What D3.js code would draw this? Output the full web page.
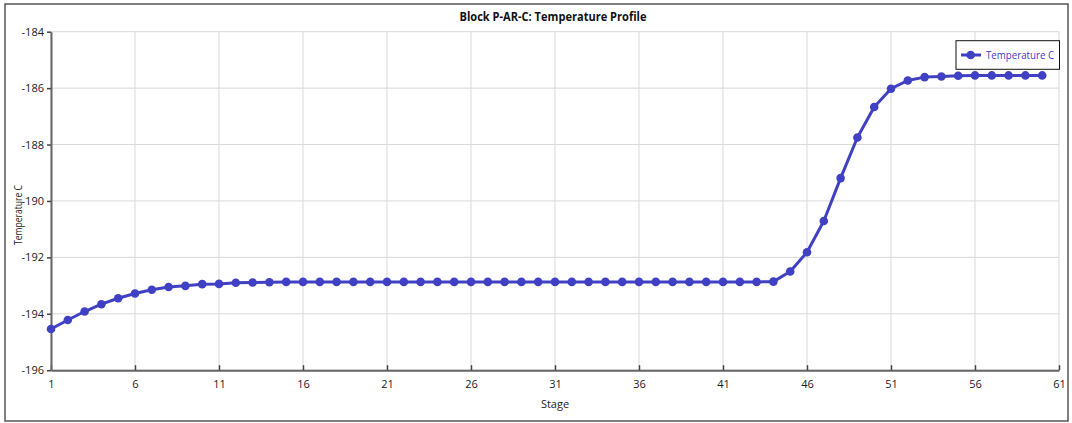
<!DOCTYPE html>
<html>
<head>
<meta charset="utf-8">
<script src="https://cdn.jsdelivr.net/npm/d3@7"></script>
<style>
  html, body { margin: 0; padding: 0; background: #fff; }
  svg { display: block; font-family: "Open Sans", "Noto Sans", sans-serif; }
</style>
</head>
<body>
<svg id="chart" width="1072" height="423"></svg>
<script>
// Column profile: temperature per stage
const stages = d3.range(1, 61);
const temperatureC = [
  -194.54, -194.22, -193.92, -193.66, -193.45, -193.28, -193.15, -193.05, -193.01, -192.95,
  -192.94, -192.90, -192.89, -192.88, -192.87, -192.87, -192.87, -192.87, -192.87, -192.87,
  -192.87, -192.87, -192.87, -192.87, -192.87, -192.87, -192.87, -192.87, -192.87, -192.87,
  -192.87, -192.87, -192.87, -192.87, -192.87, -192.87, -192.87, -192.87, -192.87, -192.87,
  -192.87, -192.87, -192.87, -192.86, -192.50, -191.82, -190.71, -189.19, -187.75, -186.67,
  -186.02, -185.73, -185.61, -185.59, -185.56, -185.55, -185.55, -185.55, -185.55, -185.55
];
const xTicks = [1, 6, 11, 16, 21, 26, 31, 36, 41, 46, 51, 56, 61];
const yTicks = [-196, -194, -192, -190, -188, -186, -184];

const titleText = "Block P-AR-C: Temperature Profile";
const xTitle = "Stage";
const yTitle = "Temperature C";
const seriesName = "Temperature C";

const color = "#4040c4";
const svg = d3.select("#chart");

const plot = { left: 51, right: 1059, top: 31.7, bottom: 370.2 };

const x = d3.scaleLinear().domain([1, 61]).range([plot.left, plot.right]);
const y = d3.scaleLinear().domain([-196, -184]).range([plot.bottom, plot.top]);

// outer frame
svg.append("rect")
  .attr("x", 5).attr("y", 4).attr("width", 1063).attr("height", 417)
  .attr("fill", "#fff").attr("stroke", "#555").attr("stroke-width", 1.5);

// grid
const grid = svg.append("g").attr("stroke", "#d8d8d8").attr("stroke-width", 1);
grid.selectAll("line.v").data(xTicks).join("line")
  .attr("x1", d => x(d)).attr("x2", d => x(d))
  .attr("y1", plot.top).attr("y2", plot.bottom);
grid.selectAll("line.h").data(yTicks).join("line")
  .attr("x1", plot.left).attr("x2", plot.right)
  .attr("y1", d => y(d)).attr("y2", d => y(d));

// axes
const xAxis = d3.axisBottom(x).tickValues(xTicks).tickFormat(d3.format("d"))
  .tickSizeInner(-5).tickSizeOuter(0).tickPadding(10);
const gx = svg.append("g").attr("transform", `translate(0,${plot.bottom})`).call(xAxis);
gx.select(".domain").attr("stroke", "#666").attr("stroke-width", 2);
gx.selectAll(".tick line").attr("stroke", "#444").attr("stroke-width", 1.5);
gx.selectAll(".tick text").attr("fill", "#222").attr("font-size", 11)
  .attr("font-family", "'Open Sans', sans-serif");

const yAxis = d3.axisLeft(y).tickValues(yTicks).tickFormat(d => "-" + Math.abs(d))
  .tickSizeInner(4).tickSizeOuter(0).tickPadding(3);
const gy = svg.append("g").attr("transform", `translate(${plot.left},0)`).call(yAxis);
gy.select(".domain").attr("stroke", "#666").attr("stroke-width", 2);
gy.selectAll(".tick line").attr("stroke", "#444").attr("stroke-width", 1.5);
gy.selectAll(".tick text").attr("fill", "#222").attr("font-size", 11)
  .attr("font-family", "'Open Sans', sans-serif");

// series
const line = d3.line().x((d, i) => x(stages[i])).y(d => y(d));
svg.append("path").datum(temperatureC)
  .attr("d", line).attr("fill", "none")
  .attr("stroke", color).attr("stroke-width", 3).attr("stroke-linejoin", "round");
svg.append("g").selectAll("circle").data(temperatureC).join("circle")
  .attr("cx", (d, i) => x(stages[i])).attr("cy", d => y(d))
  .attr("r", 4.3).attr("fill", color);

// title and axis titles
svg.append("text").attr("x", 553).attr("y", 21).attr("text-anchor", "middle")
  .attr("font-size", 12.5).attr("font-weight", "bold").attr("fill", "#111")
  .attr("textLength", 187).attr("lengthAdjust", "spacingAndGlyphs")
  .text(titleText);
svg.append("text").attr("x", 555).attr("y", 408).attr("text-anchor", "middle")
  .attr("font-size", 11).attr("fill", "#222").text(xTitle);
svg.append("text")
  .attr("transform", "translate(22,215) rotate(-90)")
  .attr("text-anchor", "middle").attr("font-size", 11).attr("fill", "#222")
  .attr("textLength", 60).attr("lengthAdjust", "spacingAndGlyphs")
  .text(yTitle);

// legend
const lg = svg.append("g");
lg.append("rect").attr("x", 956).attr("y", 40.7).attr("width", 103.5).attr("height", 28.6)
  .attr("fill", "#fff").attr("stroke", "#111").attr("stroke-width", 1);
lg.append("line").attr("x1", 961).attr("x2", 981).attr("y1", 55).attr("y2", 55)
  .attr("stroke", color).attr("stroke-width", 3);
lg.append("circle").attr("cx", 970.7).attr("cy", 55).attr("r", 4.3).attr("fill", color);
lg.append("text").attr("x", 986).attr("y", 59).attr("font-size", 11).attr("fill", color)
  .attr("textLength", 68).attr("lengthAdjust", "spacingAndGlyphs")
  .text(seriesName);
</script>
</body>
</html>
